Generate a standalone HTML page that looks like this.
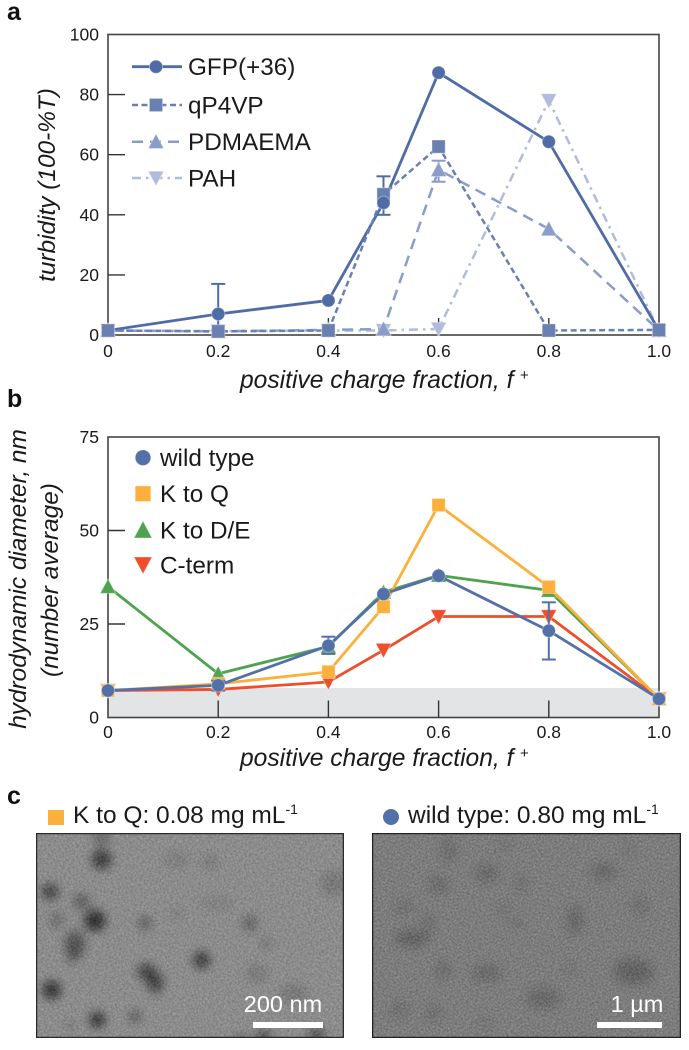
<!DOCTYPE html>
<html>
<head>
<meta charset="utf-8">
<style>
html,body{margin:0;padding:0;background:#fff;}
svg{display:block;font-family:"Liberation Sans",sans-serif;}
</style>
</head>
<body>
<svg id="fig" xmlns="http://www.w3.org/2000/svg" width="689" height="1050" viewBox="0 0 689 1050">
  <defs>
    <filter id="blurL" x="-50%" y="-50%" width="200%" height="200%"><feGaussianBlur stdDeviation="14"/></filter>
    <filter id="blurR" x="-50%" y="-50%" width="200%" height="200%"><feGaussianBlur stdDeviation="16"/></filter>
    <filter id="noiseL" x="0" y="0" width="100%" height="100%" color-interpolation-filters="sRGB">
      <feTurbulence type="fractalNoise" baseFrequency="0.9" numOctaves="1" seed="4"/>
      <feColorMatrix type="matrix" values="3 0 0 0 -0.95  3 0 0 0 -0.95  3 0 0 0 -0.95  0 0 0 0 0.28"/>
      <feGaussianBlur stdDeviation="0.4"/>
    </filter>
    <filter id="noiseR" x="0" y="0" width="100%" height="100%" color-interpolation-filters="sRGB">
      <feTurbulence type="fractalNoise" baseFrequency="0.95" numOctaves="1" seed="9"/>
      <feColorMatrix type="matrix" values="2.6 0 0 0 -0.85  2.6 0 0 0 -0.85  2.6 0 0 0 -0.85  0 0 0 0 0.36"/>
      <feGaussianBlur stdDeviation="0.5"/>
    </filter>
    <clipPath id="clipL"><rect x="36" y="833" width="308" height="205"/></clipPath>
    <clipPath id="clipR"><rect x="372" y="833" width="309" height="205"/></clipPath>
  </defs>
  <rect width="689" height="1050" fill="#fff"/>

  <g id="chartA"></g>
  <g id="chartB"></g>

  <text x="7" y="20" font-size="25" font-weight="bold" fill="#111">a</text>
  <text x="7" y="407" font-size="25" font-weight="bold" fill="#111">b</text>
  <text x="7" y="804" font-size="25" font-weight="bold" fill="#111">c</text>

  <!-- Panel c headers -->
  <rect x="48" y="810" width="16" height="15" fill="#fbb03b"/>
  <text x="73" y="823" font-size="24.5" fill="#1a1a1a">K to Q: 0.08 mg mL<tspan font-size="14" dy="-9">-1</tspan></text>
  <circle cx="391" cy="817" r="8" fill="#5470a8"/>
  <text x="408" y="823" font-size="24.5" fill="#1a1a1a">wild type: 0.80 mg mL<tspan font-size="14" dy="-9">-1</tspan></text>

  <!-- Left micrograph -->
  <g clip-path="url(#clipL)">
    <rect x="36" y="833" width="308" height="205" fill="#8d8d8d"/>
    <g transform="translate(0,780) scale(0.3333)" filter="url(#blurL)" fill="#000" opacity=".95">
      <ellipse cx="305" cy="238" rx="30" ry="30" opacity=".8"/>
      <ellipse cx="305" cy="175" rx="26" ry="18" opacity=".45"/>
      <ellipse cx="150" cy="335" rx="26" ry="24" opacity=".75"/>
      <ellipse cx="245" cy="365" rx="26" ry="24" opacity=".45"/>
      <ellipse cx="285" cy="422" rx="32" ry="32" opacity=".95"/>
      <ellipse cx="170" cy="420" rx="20" ry="24" opacity=".35"/>
      <ellipse cx="225" cy="495" rx="30" ry="42" opacity=".6"/>
      <ellipse cx="215" cy="535" rx="12" ry="18" opacity=".4"/>
      <ellipse cx="435" cy="430" rx="20" ry="20" opacity=".5"/>
      <ellipse cx="605" cy="540" rx="26" ry="26" opacity=".8"/>
      <ellipse cx="440" cy="575" rx="28" ry="24" opacity=".75"/>
      <ellipse cx="465" cy="605" rx="26" ry="26" opacity=".75"/>
      <ellipse cx="468" cy="632" rx="14" ry="14" opacity=".5"/>
      <ellipse cx="155" cy="630" rx="28" ry="28" opacity=".9"/>
      <ellipse cx="292" cy="720" rx="24" ry="24" opacity=".9"/>
      <ellipse cx="405" cy="710" rx="18" ry="18" opacity=".55"/>
      <ellipse cx="210" cy="735" rx="14" ry="14" opacity=".3"/>
      <ellipse cx="750" cy="430" rx="24" ry="24" opacity=".4"/>
      <ellipse cx="800" cy="490" rx="18" ry="18" opacity=".25"/>
      <ellipse cx="530" cy="240" rx="40" ry="26" opacity=".14"/>
      <ellipse cx="630" cy="245" rx="28" ry="26" opacity=".16"/>
      <ellipse cx="1000" cy="310" rx="40" ry="40" opacity=".2"/>
      <ellipse cx="770" cy="580" rx="36" ry="28" opacity=".18"/>
      <ellipse cx="880" cy="640" rx="44" ry="30" opacity=".2"/>
      <ellipse cx="650" cy="370" rx="60" ry="24" opacity=".1"/>
      <ellipse cx="790" cy="770" rx="26" ry="20" opacity=".6"/>
      <ellipse cx="950" cy="765" rx="26" ry="22" opacity=".6"/>
      <ellipse cx="720" cy="775" rx="18" ry="14" opacity=".45"/>
      <ellipse cx="530" cy="400" rx="30" ry="18" opacity=".12"/>
    </g>
    <rect x="36" y="833" width="308" height="205" fill="#000" filter="url(#noiseL)"/>
    <rect x="36.5" y="833.5" width="307" height="204" fill="none" stroke="#2a2a2a" stroke-width="1.5"/>
  </g>
  <rect x="253" y="1022" width="70" height="6" fill="#fff"/>
  <text x="283" y="1012" font-size="23.5" text-anchor="middle" fill="#fff">200 nm</text>

  <!-- Right micrograph -->
  <g clip-path="url(#clipR)">
    <rect x="372" y="833" width="309" height="205" fill="#828282"/>
    <g transform="translate(350,780) scale(0.3333)" filter="url(#blurR)" fill="#000" opacity=".85">
      <ellipse cx="295" cy="210" rx="24" ry="38" opacity=".22"/>
      <ellipse cx="410" cy="280" rx="36" ry="24" opacity=".3"/>
      <ellipse cx="265" cy="315" rx="30" ry="24" opacity=".28"/>
      <ellipse cx="515" cy="310" rx="18" ry="28" opacity=".2"/>
      <ellipse cx="760" cy="275" rx="38" ry="24" opacity=".3"/>
      <ellipse cx="160" cy="380" rx="30" ry="18" opacity=".22"/>
      <ellipse cx="185" cy="475" rx="52" ry="24" opacity=".38"/>
      <ellipse cx="235" cy="430" rx="18" ry="34" opacity=".22"/>
      <ellipse cx="675" cy="420" rx="20" ry="44" opacity=".35"/>
      <ellipse cx="870" cy="380" rx="24" ry="28" opacity=".2"/>
      <ellipse cx="280" cy="570" rx="22" ry="24" opacity=".28"/>
      <ellipse cx="410" cy="580" rx="46" ry="24" opacity=".28"/>
      <ellipse cx="850" cy="575" rx="60" ry="38" opacity=".36"/>
      <ellipse cx="580" cy="655" rx="50" ry="32" opacity=".28"/>
      <ellipse cx="250" cy="700" rx="24" ry="24" opacity=".2"/>
      <ellipse cx="150" cy="690" rx="30" ry="24" opacity=".2"/>
      <ellipse cx="460" cy="385" rx="20" ry="16" opacity=".2"/>
      <ellipse cx="660" cy="565" rx="18" ry="18" opacity=".18"/>
      <ellipse cx="405" cy="730" rx="18" ry="18" opacity=".18"/>
      <ellipse cx="835" cy="210" rx="18" ry="18" opacity=".16"/>
      <ellipse cx="460" cy="195" rx="30" ry="14" opacity=".14"/>
      <ellipse cx="500" cy="430" rx="24" ry="18" opacity=".14"/>
    </g>
    <rect x="372" y="833" width="309" height="205" fill="#000" filter="url(#noiseR)"/>
    <rect x="372.5" y="833.5" width="308" height="204" fill="none" stroke="#222" stroke-width="1.5"/>
  </g>
  <rect x="597" y="1022" width="65" height="6" fill="#fff"/>
  <text x="637" y="1012" font-size="23.5" text-anchor="middle" fill="#fff">1 µm</text>
</svg>

<script>
// ---- shared x categories ----
const fractionValues = [0, 0.2, 0.4, 0.5, 0.6, 0.8, 1.0];
const xTickValues = [0, 0.2, 0.4, 0.6, 0.8, 1.0];
const xTickLabels = ["0", "0.2", "0.4", "0.6", "0.8", "1.0"];

// ---- panel a: turbidity ----
const turbidityTicks = [0, 20, 40, 60, 80, 100];
const gfpTurbidity = [1.5, 7, 11.5, 44, 87.3, 64.3, 1.5];
const qp4vpTurbidity = [1.5, 1.2, 1.5, 46.8, 62.7, 1.5, 1.7];
const pdmaemaTurbidity = [1.5, 1.2, 1.7, 2, 55, 35.3, 1.5];
const pahTurbidity = [1.5, 1.3, 1.5, 1.5, 2, 78, 1.5];
const gfpErrorUpper = [1.5, 17, 11.5, 52.8, 87.3, 64.3, 1.5];
const gfpErrorLower = [1.5, 1.5, 11.5, 40, 87.3, 64.3, 1.5];
const pdmaemaErrorUpper = [1.5, 1.2, 1.7, 2, 58, 35.3, 1.5];
const pdmaemaErrorLower = [1.5, 1.2, 1.7, 2, 51, 35.3, 1.5];

// ---- panel b: hydrodynamic diameter ----
const diameterTicks = [0, 25, 50, 75];
const wildTypeDiameter = [7.2, 8.6, 19.2, 33, 37.9, 23.2, 5];
const kToQDiameter = [7.2, 9, 12.2, 29.6, 56.8, 34.9, 5];
const kToDEDiameter = [35, 11.7, 19, 33.5, 38, 34, 5];
const cTermDiameter = [7.2, 7.5, 9.5, 18, 27, 27, 5];
const wildTypeErrorUpper = [7.2, 9.8, 21.6, 33, 37.9, 30.8, 5];
const wildTypeErrorLower = [7.2, 7.2, 17, 33, 37.9, 15.5, 5];
const detectionLimit = [7.9];

// ---- axis functions ----
function xScale(v) { return 108 + v * 551; }
function yScaleA(v) { return 335 - v * 3.005; }
function yScaleB(v) { return 717.5 - v * 3.74; }

const NS = "http://www.w3.org/2000/svg";

function make(tag, parent, attrs, name) {
  const el = document.createElementNS(NS, tag);
  for (const k in attrs) el.setAttribute(k, attrs[k]);
  
  
  parent.appendChild(el);
  return el;
}

function marker(parent, shape, x, y, color, s, name) {
  const stroke = { stroke: "#ffffff", "stroke-opacity": 0.35, "stroke-width": 1 };
  if (shape === "circle") {
    return make("circle", parent, Object.assign({ cx: x, cy: y, r: s, fill: color }, stroke), name);
  }
  if (shape === "square") {
    return make("rect", parent, Object.assign({ x: x - s, y: y - s, width: 2 * s, height: 2 * s, fill: color }, stroke), name);
  }
  if (shape === "up") {
    const pts = (x - s - 1) + "," + (y + s) + " " + (x + s + 1) + "," + (y + s) + " " + x + "," + (y - s - 1);
    return make("polygon", parent, Object.assign({ points: pts, fill: color }, stroke), name);
  }
  const pts = (x - s - 1) + "," + (y - s) + " " + (x + s + 1) + "," + (y - s) + " " + x + "," + (y + s + 1);
  return make("polygon", parent, Object.assign({ points: pts, fill: color }, stroke), name);
}

function series(parent, key, xs, ys, yFn, style) {
  const pts = xs.map((v, i) => xScale(v) + "," + yFn(ys[i])).join(" ");
  const attrs = { points: pts, fill: "none", stroke: style.color, "stroke-width": style.width, "stroke-linejoin": "round" };
  if (style.dash) attrs["stroke-dasharray"] = style.dash;
  make("polyline", parent, attrs, key + "-line");
  xs.forEach((v, i) => {
    marker(parent, style.shape, xScale(v), yFn(ys[i]), style.color, style.size, key + "-point");
  });
}

function errorBars(parent, key, xs, upper, lower, yFn, color) {
  xs.forEach((v, i) => {
    if (upper[i] === lower[i]) return;
    const x = xScale(v);
    const a = { stroke: color, "stroke-width": 2 };
    make("line", parent, Object.assign({ x1: x, x2: x, y1: yFn(upper[i]), y2: yFn(lower[i]) }, a), key + "-error-bar");
    make("line", parent, Object.assign({ x1: x - 7, x2: x + 7, y1: yFn(upper[i]), y2: yFn(upper[i]) }, a), key + "-error-cap");
    make("line", parent, Object.assign({ x1: x - 7, x2: x + 7, y1: yFn(lower[i]), y2: yFn(lower[i]) }, a), key + "-error-cap");
  });
}

function label(parent, txt, attrs, name) {
  const el = make("text", parent, Object.assign({ fill: "#1a1a1a" }, attrs), name);
  el.textContent = txt;
  return el;
}

function axes(parent, yTicks, yFn, top, bottom, tickLen, xLabelY, titleY) {
  make("rect", parent, { x: 108, y: top, width: 551, height: bottom - top, fill: "none", stroke: "#444", "stroke-width": 1.6 }, "plot-frame");
  yTicks.forEach(t => {
    const y = yFn(t);
    if (t !== 0 && y > top + 1) {
      make("line", parent, { x1: 108, x2: 125, y1: y, y2: y, stroke: "#333", "stroke-width": 1.4 }, "y-tick");
    }
    label(parent, String(t), { x: 99, y: y + 6, "font-size": 17.5, "text-anchor": "end" }, "y-tick-label");
  });
  xTickValues.forEach((v, i) => {
    const x = xScale(v);
    if (i > 0 && i < xTickValues.length - 1) {
      make("line", parent, { x1: x, x2: x, y1: bottom, y2: bottom - tickLen, stroke: "#333", "stroke-width": 1.4 }, "x-tick");
    }
    label(parent, xTickLabels[i], { x: x, y: xLabelY, "font-size": 17.5, "text-anchor": "middle" }, "x-tick-label");
  });
  label(parent, "positive charge fraction, f", { x: 240, y: titleY, "font-size": 24.6, "font-style": "italic" }, "x-axis-title");
  label(parent, "+", { x: 520, y: titleY - 8, "font-size": 15 }, "x-axis-title-superscript");
}

function legendEntry(parent, key, text, y, lineX, markerX, textX, style, withLine) {
  if (withLine) {
    const a = { x1: lineX, x2: lineX + 50, y1: y, y2: y, stroke: style.color, "stroke-width": style.width };
    if (style.dash) a["stroke-dasharray"] = style.dash;
    make("line", parent, a, "legend-line-" + key);
  }
  marker(parent, style.shape, markerX, y, style.color, withLine ? style.size : style.size + 1.2, "legend-marker-" + key);
  label(parent, text, { x: textX, y: y + 8.5, "font-size": 24.3 }, "legend-label-" + key);
}

// ---- styles ----
const styleGfp = { color: "#4f6ca6", width: 2.8, shape: "circle", size: 6.6 };
const styleQp = { color: "#6a80b3", width: 2.5, dash: "6 3.5", shape: "square", size: 6.6 };
const stylePd = { color: "#8a9cca", width: 2.5, dash: "11 7", shape: "up", size: 6.8 };
const stylePah = { color: "#b1bbdb", width: 2.5, dash: "9 5 2.5 5", shape: "down", size: 6.8 };
const styleWild = { color: "#5470a8", width: 2.8, shape: "circle", size: 6.6 };
const styleQ = { color: "#fbb03b", width: 2.8, shape: "square", size: 6.6 };
const styleDE = { color: "#4fa24f", width: 2.8, shape: "up", size: 6.8 };
const styleC = { color: "#ee4e2c", width: 2.8, shape: "down", size: 6.8 };

// ---- panel a ----
const ga = document.getElementById("chartA");
axes(ga, turbidityTicks, yScaleA, 34.5, 335, 17, 357, 388);
label(ga, "turbidity (100-%T)", { transform: "translate(55,185) rotate(-90)", "font-size": 24.4, "font-style": "italic", "text-anchor": "middle" }, "y-axis-title");
series(ga, "pah", fractionValues, pahTurbidity, yScaleA, stylePah);
errorBars(ga, "pdmaema", fractionValues, pdmaemaErrorUpper, pdmaemaErrorLower, yScaleA, stylePd.color);
series(ga, "pdmaema", fractionValues, pdmaemaTurbidity, yScaleA, stylePd);
errorBars(ga, "gfp", fractionValues, gfpErrorUpper, gfpErrorLower, yScaleA, styleGfp.color);
series(ga, "gfp", fractionValues, gfpTurbidity, yScaleA, styleGfp);
series(ga, "qp4vp", fractionValues.slice(0, 3), qp4vpTurbidity.slice(0, 3), yScaleA, styleQp);
series(ga, "qp4vp", fractionValues.slice(2), qp4vpTurbidity.slice(2), yScaleA, styleQp);
marker(ga, "circle", xScale(fractionValues[3]), yScaleA(gfpTurbidity[3]), styleGfp.color, styleGfp.size, "gfp-point");
legendEntry(ga, "gfp", "GFP(+36)", 66.7, 132, 156, 188, styleGfp, true);
legendEntry(ga, "qp4vp", "qP4VP", 105, 132, 156, 188, styleQp, true);
legendEntry(ga, "pdmaema", "PDMAEMA", 141.7, 132, 156, 188, stylePd, true);
legendEntry(ga, "pah", "PAH", 178, 132, 156, 188, stylePah, true);

// ---- panel b ----
const gb = document.getElementById("chartB");
make("rect", gb, { x: 108, y: yScaleB(detectionLimit[0]), width: 551, height: yScaleB(0) - yScaleB(detectionLimit[0]), fill: "#e3e4e6" }, "detection-limit-band");
axes(gb, diameterTicks, yScaleB, 437, 717.5, 17, 738, 766);
label(gb, "hydrodynamic diameter, nm", { transform: "translate(26,579) rotate(-90)", "font-size": 24.4, "font-style": "italic", "text-anchor": "middle" }, "y-axis-title");
label(gb, "(number average)", { transform: "translate(58,580) rotate(-90)", "font-size": 24.4, "font-style": "italic", "text-anchor": "middle" }, "y-axis-subtitle");
series(gb, "k-to-de", fractionValues, kToDEDiameter, yScaleB, styleDE);
series(gb, "c-term", fractionValues, cTermDiameter, yScaleB, styleC);
series(gb, "k-to-q", fractionValues, kToQDiameter, yScaleB, styleQ);
errorBars(gb, "wild-type", fractionValues, wildTypeErrorUpper, wildTypeErrorLower, yScaleB, styleWild.color);
series(gb, "wild-type", fractionValues, wildTypeDiameter, yScaleB, styleWild);
legendEntry(gb, "wild-type", "wild type", 457.7, 0, 143, 160, styleWild, false);
legendEntry(gb, "k-to-q", "K to Q", 493.7, 0, 143, 160, styleQ, false);
legendEntry(gb, "k-to-de", "K to D/E", 530, 0, 143, 160, styleDE, false);
legendEntry(gb, "c-term", "C-term", 565, 0, 143, 160, styleC, false);
</script>
</body>
</html>
